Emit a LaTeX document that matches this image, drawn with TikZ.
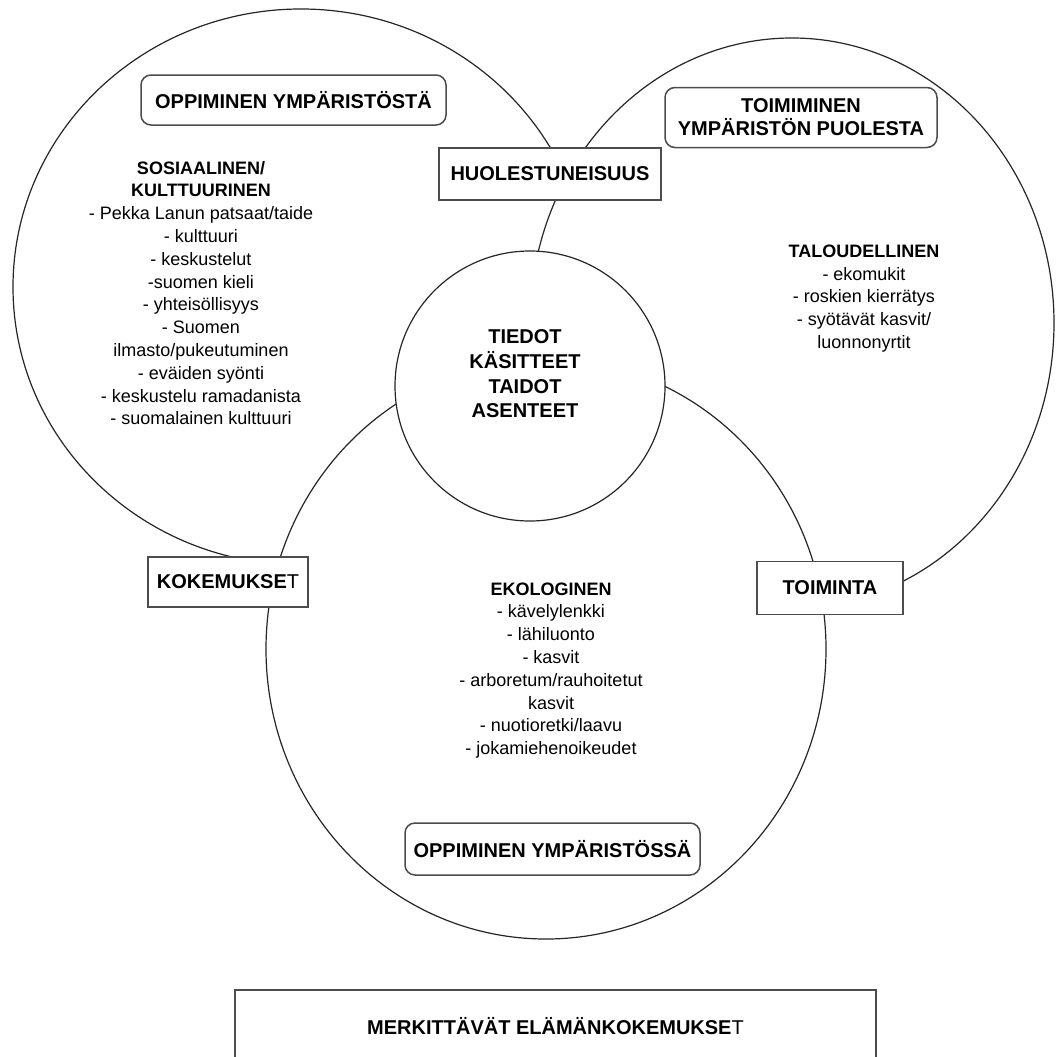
\documentclass[tikz,border=0pt]{standalone}
\usepackage{fontspec}
\setmainfont{Liberation Sans}
\usetikzlibrary{shapes.geometric}
\begin{document}
\begin{tikzpicture}[x=1pt,y=-1pt,
  venn/.style={ellipse, draw=black!85, line width=1.2pt, fill=white, inner sep=0pt, outer sep=0pt},
  sqbox/.style={rectangle, draw=black!70, line width=1.5pt, fill=white, inner sep=0pt,
                font=\fontsize{20}{24}\selectfont\bfseries, align=center},
  rbox/.style={sqbox, rounded corners=10pt},
  lbl/.style={font=\fontsize{20}{24.7}\selectfont\bfseries, align=center, inner sep=0pt},
  body/.style={font=\fontsize{18}{22.8}\selectfont, align=center, inner sep=0pt}]

\useasboundingbox[fill=white] (0,0) rectangle (1055,1057);

% overlapping Venn shapes (drawn in stacking order)
\node[venn, minimum width=576pt, minimum height=556pt] (leftc) at (301,287) {};
\node[venn, minimum width=524pt, minimum height=570pt] (rightc) at (792,323) {};
\node[venn, minimum width=560pt, minimum height=580pt] (bottomc) at (546,649) {};
\node[venn, circle, minimum size=270pt] (core) at (530,386) {};

% labelled boxes
\node[rbox, minimum width=305pt, minimum height=50pt] (from) at (293.5,100) {OPPIMINEN YMPÄRISTÖSTÄ};
\node[rbox, minimum width=272pt, minimum height=60pt, font=\fontsize{20}{23}\selectfont\bfseries] (for) at (801,117.5) {TOIMIMINEN\\YMPÄRISTÖN PUOLESTA};
\node[rbox, minimum width=295pt, minimum height=52pt] (in) at (552.5,849) {OPPIMINEN YMPÄRISTÖSSÄ};
\node[sqbox, minimum width=222pt, minimum height=52pt] (worry) at (550,174) {HUOLESTUNEISUUS};
\node[sqbox, minimum width=146pt, minimum height=53pt] (action) at (830,588) {TOIMINTA};
\node[sqbox, minimum width=160pt, minimum height=50pt] (exper) at (228,582) {KOKEMUKSE{\mdseries T}};
\node[sqbox, minimum width=641pt, minimum height=72pt] (life) at (555.5,1026) {MERKITTÄVÄT ELÄMÄNKOKEMUKSE{\mdseries T}};

% texts
\node[lbl] (coretext) at (525,374) {TIEDOT\\KÄSITTEET\\TAIDOT\\ASENTEET};

\node[body] (social) at (201,293) {\textbf{SOSIAALINEN/}\\\textbf{KULTTUURINEN}\\- Pekka Lanun patsaat/taide\\- kulttuuri\\- keskustelut\\-suomen kieli\\- yhteisöllisyys\\- Suomen\\ilmasto/pukeutuminen\\- eväiden syönti\\- keskustelu ramadanista\\- suomalainen kulttuuri};

\node[body] (economic) at (864,298.5) {\textbf{TALOUDELLINEN}\\- ekomukit\\- roskien kierrätys\\- syötävät kasvit/\\luonnonyrtit};

\node[body] (ecologic) at (551,670.5) {\textbf{EKOLOGINEN}\\- kävelylenkki\\- lähiluonto\\- kasvit\\- arboretum/rauhoitetut\\kasvit\\- nuotioretki/laavu\\- jokamiehenoikeudet};

\end{tikzpicture}
\end{document}
